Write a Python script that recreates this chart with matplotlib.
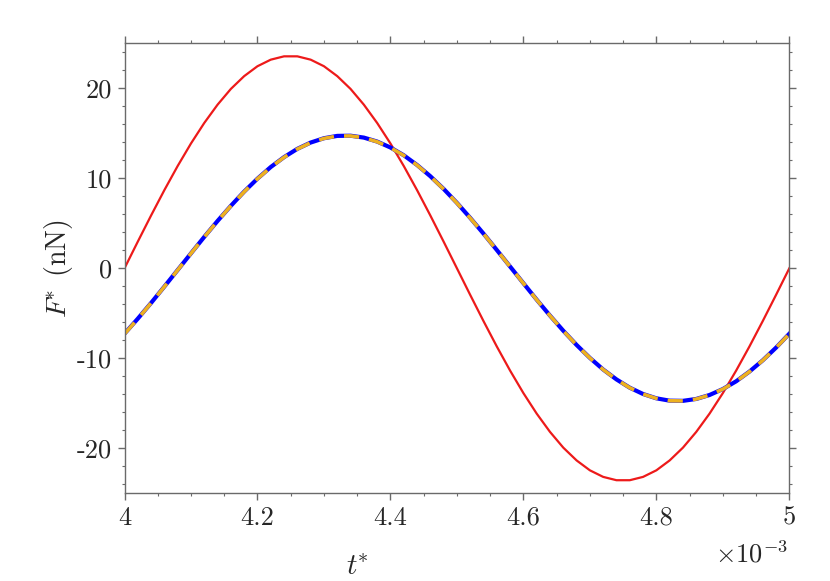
import numpy as np
import matplotlib
matplotlib.use("Agg")
import matplotlib.pyplot as plt
from matplotlib.ticker import MultipleLocator, FuncFormatter

plt.rcParams['font.family'] = ['cmr10', 'DejaVu Serif']
plt.rcParams['mathtext.fontset'] = 'cm'
plt.rcParams['axes.unicode_minus'] = False
plt.rcParams['axes.formatter.use_mathtext'] = True

# time in units of 1e-3
t = [4.00, 4.02, 4.04, 4.06, 4.08, 4.10, 4.12, 4.14, 4.16, 4.18,
     4.20, 4.22, 4.24, 4.26, 4.28, 4.30, 4.32, 4.34, 4.36, 4.38,
     4.40, 4.42, 4.44, 4.46, 4.48, 4.50, 4.52, 4.54, 4.56, 4.58,
     4.60, 4.62, 4.64, 4.66, 4.68, 4.70, 4.72, 4.74, 4.76, 4.78,
     4.80, 4.82, 4.84, 4.86, 4.88, 4.90, 4.92, 4.94, 4.96, 4.98, 5.00]

F_red = [0.0, 2.96, 5.87, 8.69, 11.37, 13.87, 16.15, 18.18, 19.93, 21.35,
         22.45, 23.18, 23.55, 23.55, 23.18, 22.45, 21.35, 19.93, 18.18, 16.15,
         13.87, 11.37, 8.69, 5.87, 2.96, 0.0, -2.96, -5.87, -8.69, -11.37,
         -13.87, -16.15, -18.18, -19.93, -21.35, -22.45, -23.18, -23.55, -23.55, -23.18,
         -22.45, -21.35, -19.93, -18.18, -16.15, -13.87, -11.37, -8.69, -5.87, -2.96, 0.0]

F_blue = [-7.27, -5.60, -3.85, -2.03, -0.19, 1.66, 3.49, 5.26, 6.94, 8.52,
          9.96, 11.25, 12.35, 13.27, 13.97, 14.45, 14.71, 14.73, 14.52, 14.08,
          13.42, 12.56, 11.48, 10.23, 8.82, 7.27, 5.60, 3.85, 2.03, 0.19,
          -1.66, -3.49, -5.26, -6.94, -8.52, -9.96, -11.25, -12.35, -13.27, -13.97,
          -14.45, -14.71, -14.73, -14.52, -14.08, -13.42, -12.56, -11.48, -10.23, -8.82, -7.27]

F_orange = [-7.30, -5.62, -3.86, -2.04, -0.20, 1.65, 3.48, 5.25, 6.93, 8.50,
            9.94, 11.23, 12.33, 13.25, 13.95, 14.43, 14.69, 14.71, 14.50, 14.06,
            13.40, 12.54, 11.46, 10.21, 8.80, 7.25, 5.58, 3.84, 2.02, 0.18,
            -1.67, -3.50, -5.27, -6.95, -8.53, -9.97, -11.26, -12.36, -13.28, -13.98,
            -14.46, -14.72, -14.74, -14.53, -14.09, -13.43, -12.57, -11.49, -10.24, -8.83, -7.29]

fig = plt.figure(figsize=(8.3, 5.81), dpi=100)
ax = fig.add_axes([0.150, 0.151, 0.801, 0.7745])

ax.plot(t, F_red, color=(0.93, 0.1, 0.1), lw=1.6)
ax.plot(t, F_blue, color='blue', lw=3.0)
ax.plot(t, F_orange, color='#EDB120', lw=2.6, dashes=(4.2, 2.8))

ax.set_xlim(4, 5)
ax.set_ylim(-25, 25)
ax.xaxis.set_major_locator(MultipleLocator(0.2))
ax.xaxis.set_minor_locator(MultipleLocator(0.05))
ax.yaxis.set_major_locator(MultipleLocator(10))
ax.yaxis.set_minor_locator(MultipleLocator(2))
fmt = FuncFormatter(lambda v, p: '%g' % round(v, 6))
ax.xaxis.set_major_formatter(fmt)
ax.yaxis.set_major_formatter(fmt)

spine_col = '#6a6a6a'
for s in ax.spines.values():
    s.set_color(spine_col)
    s.set_linewidth(1.0)
ax.tick_params(which='both', direction='out', top=True, right=True,
               color=spine_col, labelsize=19, labelcolor='#262626')
ax.tick_params(which='major', length=5, width=1.0, pad=4)
ax.tick_params(which='minor', length=2.5, width=0.8)

ax.set_xlabel(r'$t\!^*$', fontsize=21, color='#262626')
ax.xaxis.set_label_coords(0.35, -0.135)
ax.set_ylabel(r'$F\!^*\ (\mathrm{nN})$', fontsize=20, color='#262626')
ax.yaxis.set_label_coords(-0.074, 0.5)
ax.text(0.997, -0.105, r'$\times10^{-3}$', transform=ax.transAxes, ha='right',
        va='top', fontsize=19, color='#262626')

fig.savefig('out.png', dpi=100)
